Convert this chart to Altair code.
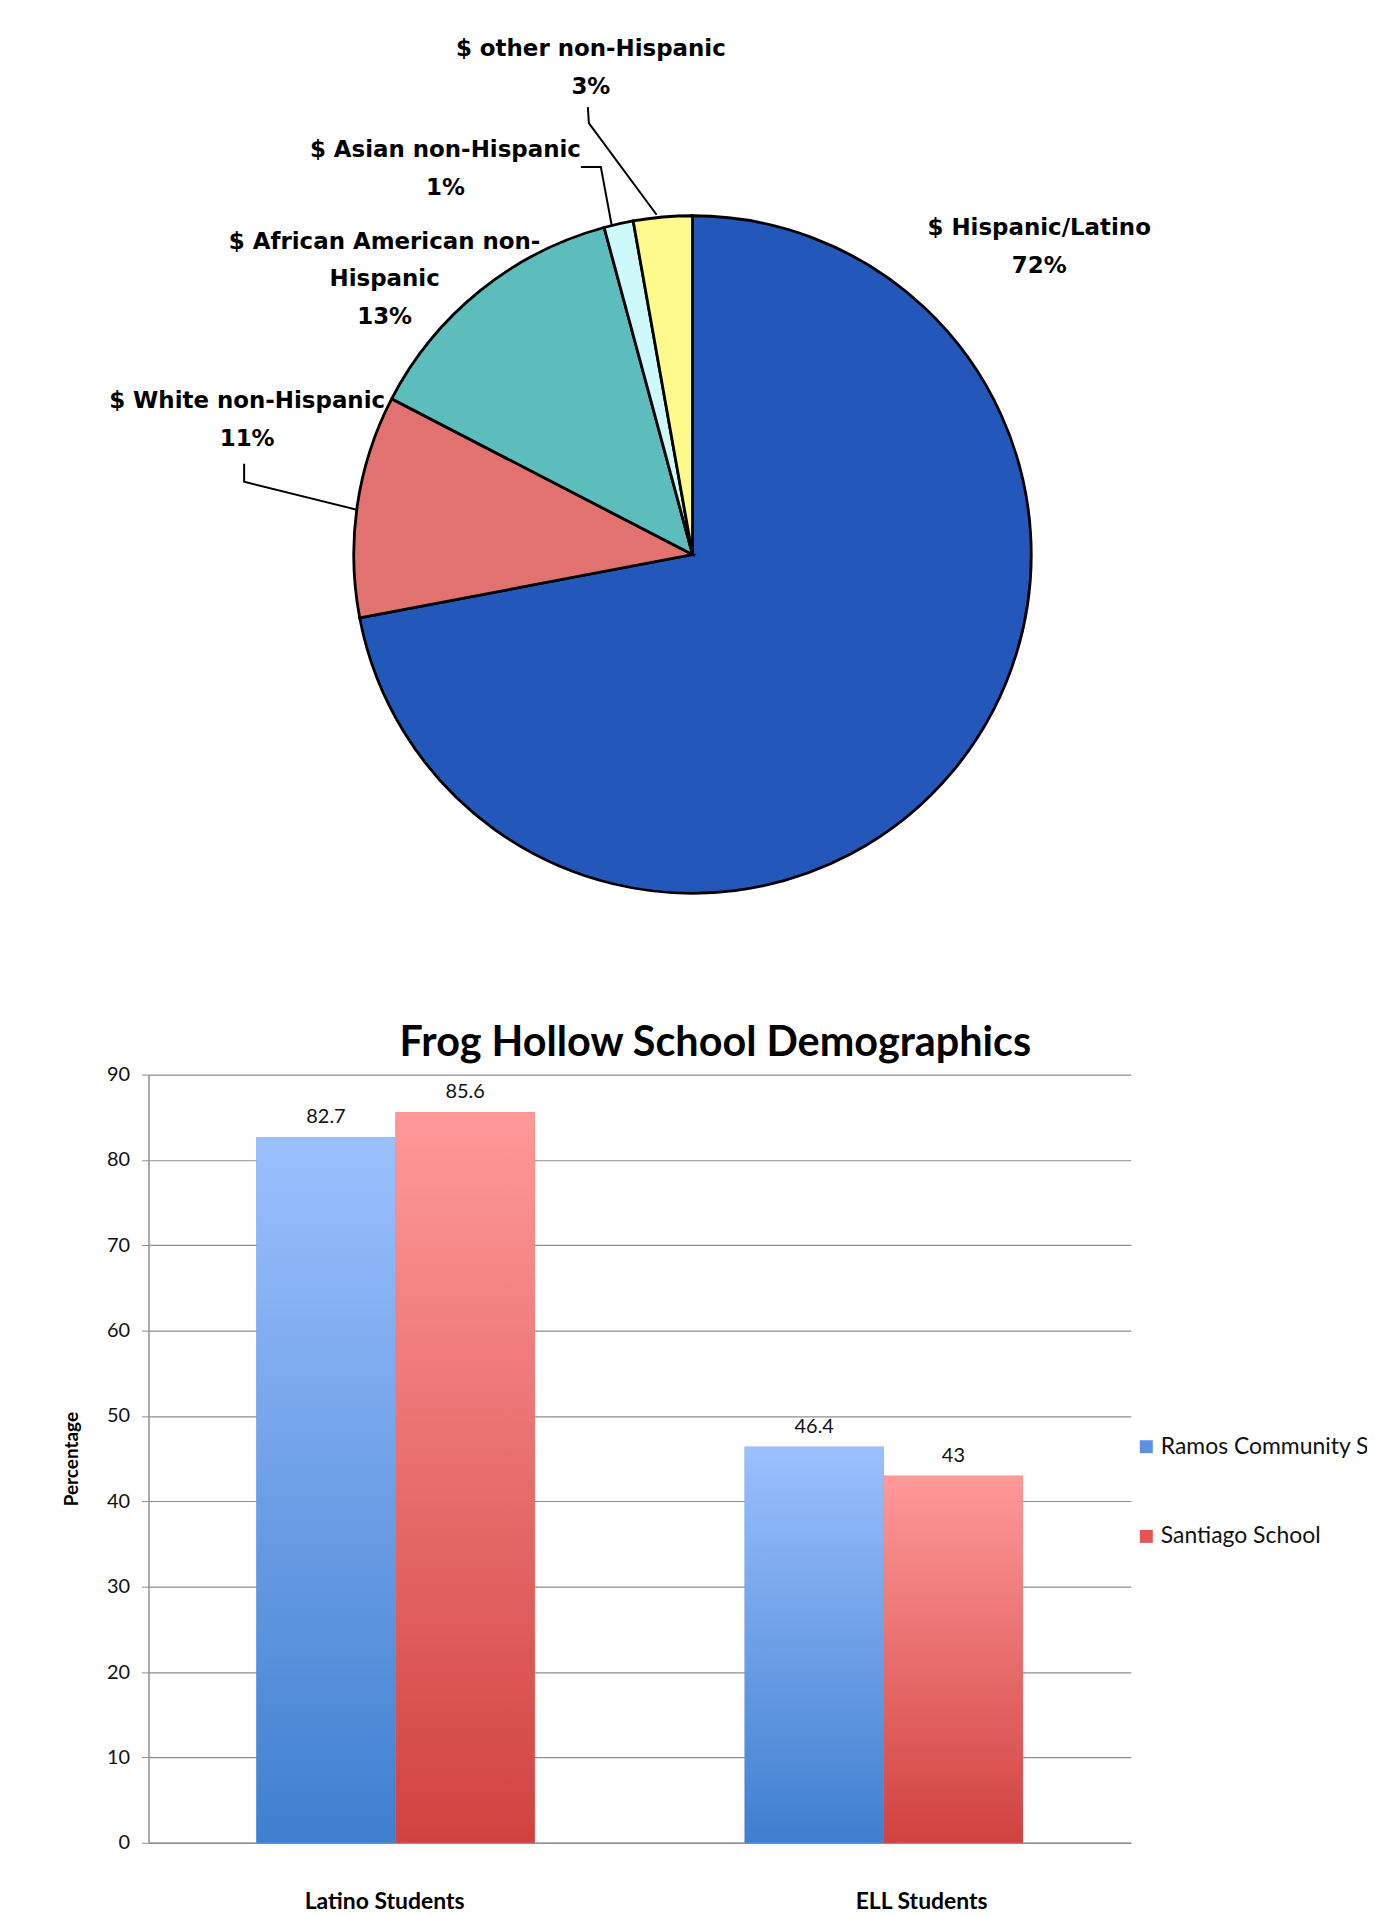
import altair as alt
import pandas as pd

# ---------------- pie data ----------------
eth_names = ["Hispanic/Latino", "White non-Hispanic", "African American non-Hispanic",
             "Asian non-Hispanic", "other non-Hispanic"]
eth_share = [72.0, 10.6, 13.2, 1.4, 2.8]
eth_label_lines = ["$ Hispanic/Latino", "$ White non-Hispanic", "$ African American non-\nHispanic",
                   "$ Asian non-Hispanic", "$ other non-Hispanic"]
eth_colors = ["#2357b9", "#e1726f", "#5dbdbd", "#cdf9fb", "#fffa8b"]

# label layout (pixel offsets of the first text line from the pie centre, y up)
label_dx = [348, -447, -309, -248, -102]
label_dy = [328, 154, 314, 406, 507]

# leader lines (pixel offsets from the pie centre, y up)
leader_id = ["w", "w", "w", "a", "a", "a", "o", "o", "o"]
leader_x = [-450, -450, -337, -112, -92, -81, -105, -104, -36]
leader_y = [91, 73, 45, 389, 389, 330, 449, 433, 341]

# ---------------- bar data ----------------
groups = ["Latino Students", "ELL Students"]
schools = ["Ramos Community School", "Santiago School"]
ramos = [82.7, 46.4]
santiago = [85.6, 43]

# ---------------- pie chart ----------------
pie_df = pd.DataFrame({"name": eth_names, "share": eth_share, "idx": list(range(len(eth_names)))})
label_df = pd.DataFrame({
    "label": [f"{t}\n{round(s)}%" for t, s in zip(eth_label_lines, eth_share)],
    "lx": label_dx, "ly": label_dy,
})
leader_df = pd.DataFrame({"lid": leader_id, "lx": leader_x, "ly": leader_y,
                          "pt": list(range(len(leader_id)))})

sx = alt.Scale(domain=[-546, 440], nice=False, zero=False)
sy = alt.Scale(domain=[-347, 540], nice=False, zero=False)

arcs = alt.Chart(pie_df).mark_arc(outerRadius=340, stroke="black", strokeWidth=2.8).encode(
    theta=alt.Theta("share:Q", stack=True),
    order=alt.Order("idx:Q"),
    color=alt.Color("name:N", scale=alt.Scale(domain=eth_names, range=eth_colors), legend=None),
    x=alt.X(datum=0, scale=sx, axis=None),
    y=alt.Y(datum=0, scale=sy, axis=None),
)

leaders = alt.Chart(leader_df).mark_line(color="black", strokeWidth=2).encode(
    x=alt.X("lx:Q", scale=sx, axis=None),
    y=alt.Y("ly:Q", scale=sy, axis=None),
    detail="lid:N",
    order="pt:Q",
)

labels = alt.Chart(label_df).mark_text(
    font="DejaVu Sans", fontWeight="bold", fontSize=23, lineBreak="\n", lineHeight=38,
    align="center", baseline="middle", color="black",
).encode(
    x=alt.X("lx:Q", scale=sx, axis=None),
    y=alt.Y("ly:Q", scale=sy, axis=None),
    text="label:N",
)

pie = alt.layer(arcs, leaders, labels).properties(width=986, height=887)

# ---------------- bar chart ----------------
rows = []
for g, r, s in zip(groups, ramos, santiago):
    rows.append({"group": g, "school": schools[0], "value": r})
    rows.append({"group": g, "school": schools[1], "value": s})
bar_df = pd.DataFrame(rows)

grad_blue = alt.LinearGradient(
    gradient="linear", x1=0, x2=0, y1=0, y2=1,
    stops=[alt.GradientStop(offset=0, color="#9bc0fe"), alt.GradientStop(offset=1, color="#3f7fcf")],
)
grad_red = alt.LinearGradient(
    gradient="linear", x1=0, x2=0, y1=0, y2=1,
    stops=[alt.GradientStop(offset=0, color="#ff9999"), alt.GradientStop(offset=1, color="#d04240")],
)

yenc = alt.Y(
    "value:Q",
    scale=alt.Scale(domain=[0, 90], nice=False),
    axis=alt.Axis(
        title="Percentage", titleFont="Lato", titleFontSize=19, titleFontWeight="bold",
        titleColor="black", titlePadding=25,
        values=list(range(0, 91, 10)), labelFont="Lato", labelFontSize=20, labelColor="#111",
        labelPadding=12, tickSize=7, tickColor="#8e8e8e", domainColor="#8e8e8e", domainWidth=1.5,
        grid=True, gridColor="#8e8e8e", gridWidth=1.2,
    ),
)

base = alt.Chart(bar_df).encode(
    x=alt.X(
        "group:N", sort=groups,
        scale=alt.Scale(paddingInner=0.43, paddingOuter=0.221),
        axis=alt.Axis(title=None, labelAngle=0, ticks=False, labelPadding=48, labelFont="Lato",
                      labelFontWeight="bold", labelFontSize=23, labelColor="black",
                      labelOffset={"condition": {"test": f"datum.value === '{groups[0]}'", "value": -11},
                                   "value": 38},
                      domainColor="#8e8e8e", domainWidth=1.5),
    ),
    xOffset=alt.XOffset("school:N", sort=schools, scale=alt.Scale(domain=schools)),
    y=yenc,
)

bars_legend = base.mark_bar().encode(
    color=alt.Color(
        "school:N",
        scale=alt.Scale(domain=schools, range=["#5b93e0", "#e05656"]),
        legend=alt.Legend(
            title=None, orient="none", legendX=990, legendY=362, direction="vertical",
            symbolType="square", symbolSize=170, symbolStrokeWidth=0,
            labelFont="Lato", labelFontSize=23, labelColor="#111", labelLimit=500,
            labelOffset=3, rowPadding=66, padding=0,
        ),
    )
)

bars_grad = base.mark_bar().encode(
    fill=alt.condition(alt.datum.school == schools[0], alt.value(grad_blue), alt.value(grad_red))
)

values_txt = base.mark_text(font="Lato", fontSize=20, dy=-20, color="#111", baseline="middle").encode(
    text=alt.Text("value:Q")
)

bar = alt.layer(bars_legend, bars_grad, values_txt).properties(
    width=986, height=771,
    title=alt.Title("Frog Hollow School Demographics", font="Lato", fontSize=41.5, fontWeight="bold",
                    color="black", offset=0, anchor="middle", dx=76),
)

chart = alt.vconcat(pie, bar, spacing=123).resolve_scale(
    color="independent"
).resolve_legend(color="independent").properties(
    padding={"left": 54, "top": 5, "right": -58, "bottom": 0}
).configure_view(stroke=None)

chart.save("out.html", embed_options={"renderer": "svg", "actions": False})
